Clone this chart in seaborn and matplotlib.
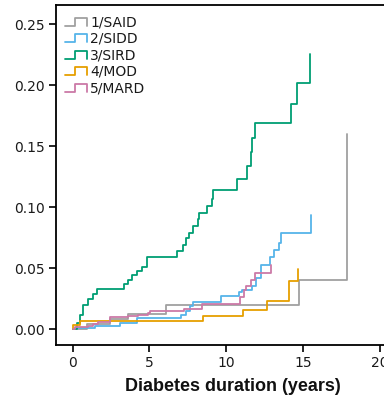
import matplotlib
matplotlib.use("Agg")
import matplotlib.pyplot as plt
import seaborn as sns
import pandas as pd
from matplotlib.legend_handler import HandlerBase
from matplotlib.lines import Line2D

# ---- data ----
groups = ["1/SAID", "2/SIDD", "3/SIRD", "4/MOD", "5/MARD"]

said_t = [0, 0.9, 2.4, 3.6, 6.1, 14.74, 17.87]
said_v = [0, 0.004, 0.008, 0.0123, 0.0200, 0.040, 0.160]

sidd_t = [0, 0.15, 1.45, 3.08, 4.2, 7.05, 7.35, 7.64, 7.86, 9.67, 10.8, 11.0,
          11.66, 11.94, 12.25, 12.85, 13.12, 13.46, 13.6, 15.5]
sidd_v = [0, 0.001, 0.0027, 0.0047, 0.009, 0.0115, 0.015, 0.0189, 0.0222, 0.027,
          0.030, 0.032, 0.0353, 0.0416, 0.0525, 0.0589, 0.0649, 0.0709, 0.0786, 0.094]

sird_t = [0, 0.26, 0.45, 0.65, 1.0, 1.3, 1.56, 3.34, 3.62, 3.88, 4.17, 4.5, 4.82,
          6.77, 7.17, 7.38, 7.6, 7.82, 8.18, 8.25, 8.73, 9.05, 9.16, 10.72, 11.33,
          11.6, 11.66, 11.88, 14.22, 14.63, 15.46]
sird_v = [0, 0.0047, 0.0115, 0.0197, 0.0244, 0.0285, 0.0326, 0.0367, 0.0402, 0.0443,
          0.0479, 0.0512, 0.0589, 0.064, 0.069, 0.0745, 0.079, 0.0846, 0.090, 0.0955,
          0.101, 0.107, 0.114, 0.123, 0.134, 0.1456, 0.1566, 0.169, 0.185, 0.202, 0.226]

mod_t = [0, 0.05, 0.45, 8.47, 11.07, 12.68, 14.11, 14.66]
mod_v = [0, 0.0033, 0.0068, 0.0107, 0.016, 0.023, 0.0394, 0.049]

mard_t = [0, 0.15, 1.0, 1.34, 1.63, 2.43, 3.62, 4.27, 4.9, 5.05, 7.25, 8.45, 10.9,
          11.14, 11.3, 11.6, 11.88, 12.92]
mard_v = [0, 0.0014, 0.0027, 0.004, 0.006, 0.0096, 0.0107, 0.0115, 0.0134, 0.0145,
          0.0165, 0.0205, 0.0265, 0.032, 0.0353, 0.040, 0.046, 0.0525]

x_ticks = [0, 5, 10, 15, 20]
y_ticks = [0.00, 0.05, 0.10, 0.15, 0.20, 0.25]

colors = ["#a0a0a0", "#56b4e9", "#009e73", "#e69f00", "#cc79a7"]

series = [(said_t, said_v), (sidd_t, sidd_v), (sird_t, sird_v), (mod_t, mod_v), (mard_t, mard_v)]

sns.set_style("ticks")
plt.rcParams['font.family'] = ['DejaVu Sans']

# axes extend past the right edge of the figure (as in the reference)
x_lo, x_hi = -1.09, 22.0
px_per_year = 15.35
ax_w = (x_hi - x_lo) * px_per_year

fig = plt.figure(figsize=(3.84, 3.97), dpi=100)
ax = fig.add_axes([56/384, 1 - 345/397, ax_w/384, 340/397])

for name, (t, v), c in zip(groups, series, colors):
    df = pd.DataFrame({"t": t, "v": v})
    sns.lineplot(data=df, x="t", y="v", ax=ax, color=c, lw=1.3,
                 drawstyle="steps-post", estimator=None, sort=False, label=name)

ax.set_xlim(x_lo, x_hi)
ax.set_ylim(-0.0131, 0.266)
ax.set_xticks(x_ticks)
ax.set_xticklabels([str(x) for x in x_ticks])
ax.set_yticks(y_ticks)
ax.set_yticklabels([f"{y:.2f}" for y in y_ticks])
ax.tick_params(axis="both", labelsize=10, length=5, width=1.2, color="black",
               labelcolor="#1a1a1a", direction="out", pad=3)
for s in ["left", "bottom", "top"]:
    ax.spines[s].set_linewidth(1.3)
    ax.spines[s].set_color("black")
ax.spines["right"].set_visible(False)
ax.set_ylabel("")
ax.set_xlabel("Diabetes duration (years)", fontsize=13, fontweight="bold",
              family=["Liberation Sans", "DejaVu Sans"], labelpad=6,
              color="#111111")


class StepHandler(HandlerBase):
    def create_artists(self, legend, orig_handle, xdescent, ydescent, width,
                       height, fontsize, trans):
        x0 = -xdescent
        y0 = -ydescent
        xs = [x0, x0 + width * 0.45, x0 + width * 0.45, x0 + width, x0 + width]
        ys = [y0 + height * 0.05, y0 + height * 0.05, y0 + height * 0.85,
              y0 + height * 0.85, y0 + height * 0.05]
        ln = Line2D(xs, ys, color=orig_handle.get_color(),
                    lw=orig_handle.get_linewidth())
        ln.set_transform(trans)
        return [ln]


handles, labels = ax.get_legend_handles_labels()
leg = ax.legend(handles, labels, loc="upper left",
                bbox_to_anchor=(9/ax_w, 0.97),
                frameon=False, fontsize=10, borderpad=0, borderaxespad=0,
                handlelength=1.6, handletextpad=0.2, labelspacing=0.18,
                handler_map={h: StepHandler() for h in handles})
for txt in leg.get_texts():
    txt.set_color("#1a1a1a")

fig.savefig("out.png", dpi=100)
